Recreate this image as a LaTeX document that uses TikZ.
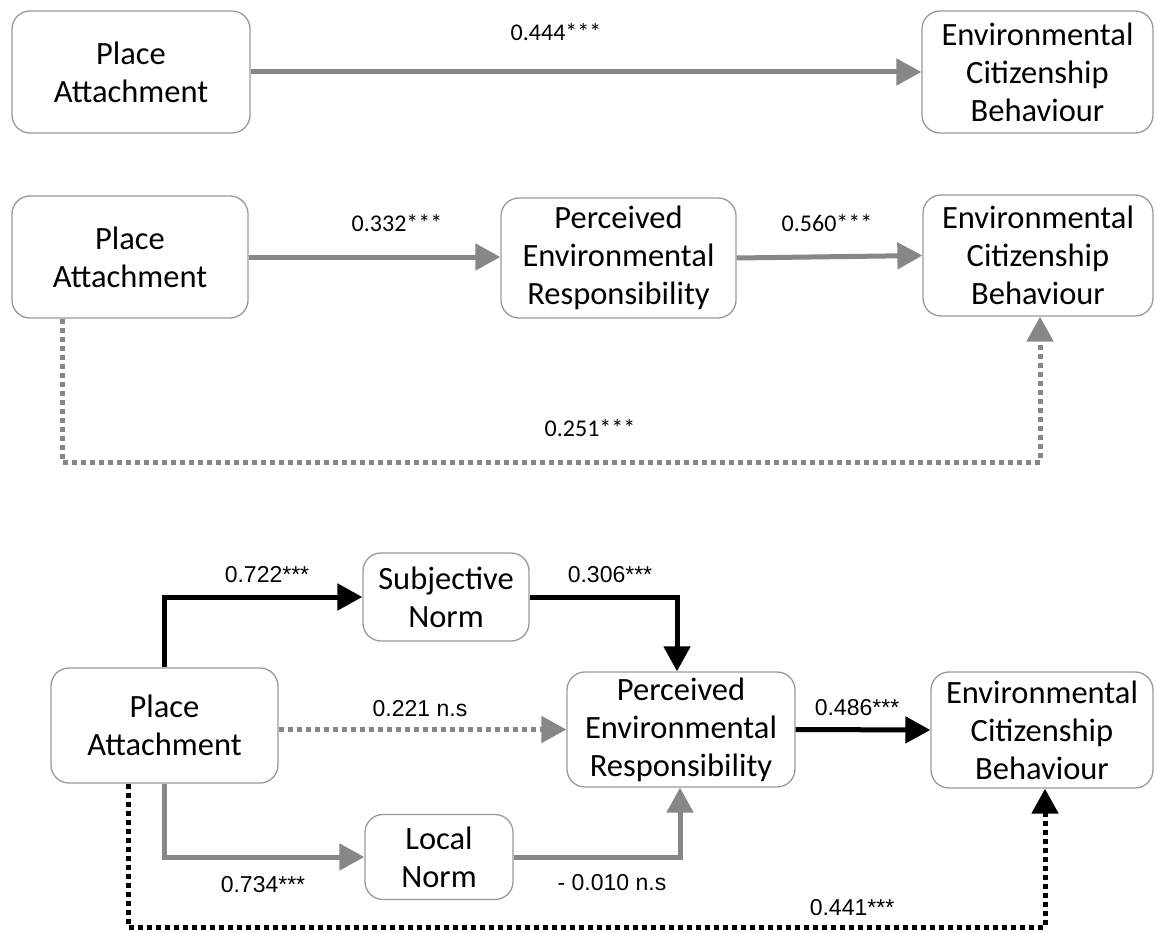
\documentclass[tikz,border=0pt]{standalone}
\usepackage{fontspec}
\setmainfont{Carlito}
\newfontfamily\arialf{Liberation Sans}
\usetikzlibrary{arrows.meta}
\definecolor{linegray}{HTML}{878787}
\definecolor{boxgray}{HTML}{9A9A9A}
\begin{document}
\begin{tikzpicture}[x=1pt,y=-1pt,
  box/.style={draw=boxgray, line width=1.3pt, rounded corners=18pt, fill=white,
    align=center, inner sep=0pt, font=\fontsize{32.5}{38}\selectfont},
  ga/.style={draw=linegray, line width=5pt, -{Triangle[length=25pt,width=26pt]}},
  ba/.style={draw=black, line width=5pt, -{Triangle[length=25pt,width=26pt]}},
  gdot/.style={ga, dash pattern=on 5pt off 4pt},
  bdot/.style={ba, dash pattern=on 5pt off 4pt},
  labc/.style={anchor=base, inner sep=0pt, font=\fontsize{24}{28}\selectfont},
  laba/.style={anchor=base, inner sep=0pt, font=\arialf\fontsize{23}{27}\selectfont}
]
\fill[white] (0,0) rectangle (1155,933);
\useasboundingbox (0,0) rectangle (1155,933);

% Row 1
\node[box, minimum width=238pt, minimum height=122pt] (PA1) at (131,72) {Place\\Attachment};
\node[box, minimum width=231pt, minimum height=122pt] (ECB1) at (1037.5,72) {Environmental\\Citizenship\\Behaviour};
\draw[ga] (PA1.east) -- (ECB1.west);
\node[labc] (l1) at (556,41) {0.444***};

% Row 2
\node[box, minimum width=236pt, minimum height=122pt] (PA2) at (130,257) {Place\\Attachment};
\node[box, minimum width=235pt, minimum height=120pt] (PER2) at (618.5,258) {Perceived\\Environmental\\Responsibility};
\node[box, minimum width=230pt, minimum height=121pt] (ECB2) at (1038,255.5) {Environmental\\Citizenship\\Behaviour};
\draw[ga] (PA2.east) -- (PA2.east -| PER2.west);
\draw[ga] (PER2.east) -- (ECB2.west);
\coordinate (d2) at (62,462);
\draw[gdot] ([xshift=-68pt]PA2.south) -- (d2) -| ([xshift=2pt]ECB2.south);
\node[labc] (l2a) at (397,232) {0.332***};
\node[labc] (l2b) at (827,232) {0.560***};
\node[labc] (l2c) at (590,436) {0.251***};

% Row 3
\node[box, minimum width=166pt, minimum height=88pt] (SN) at (446,597) {Subjective\\Norm};
\node[box, minimum width=227pt, minimum height=115pt] (PA3) at (164.5,725.5) {Place\\Attachment};
\node[box, minimum width=228pt, minimum height=115pt] (PER3) at (681,729.5) {Perceived\\Environmental\\Responsibility};
\node[box, minimum width=222pt, minimum height=116pt] (ECB3) at (1042,730) {Environmental\\Citizenship\\Behaviour};
\node[box, minimum width=148pt, minimum height=85pt] (LN) at (439,857) {Local\\Norm};

\draw[ba] (PA3.north) |- (SN.west);
\draw[ba] (SN.east) -| ([xshift=-4pt]PER3.north);
\draw[gdot] (PA3.east |- PER3.west) -- (PER3.west);
\draw[ba] (PER3.east) -- (ECB3.west);
\draw[ga] (PA3.south) |- (LN.west);
\draw[ga] (LN.east) -| ([xshift=-1pt]PER3.south);
\coordinate (d3) at (128,927);
\draw[bdot] ([xshift=-36.5pt]PA3.south) -- (d3) -| ([xshift=3pt]ECB3.south);

\node[laba] (l3a) at (267,582) {0.722***};
\node[laba] (l3b) at (610,582) {0.306***};
\node[laba] (l3c) at (420,716) {0.221 n.s};
\node[laba] (l3d) at (857,715) {0.486***};
\node[laba] (l3e) at (263,892) {0.734***};
\node[laba] (l3f) at (612,890) {- 0.010 n.s};
\node[laba] (l3g) at (852,915) {0.441***};
\end{tikzpicture}
\end{document}
